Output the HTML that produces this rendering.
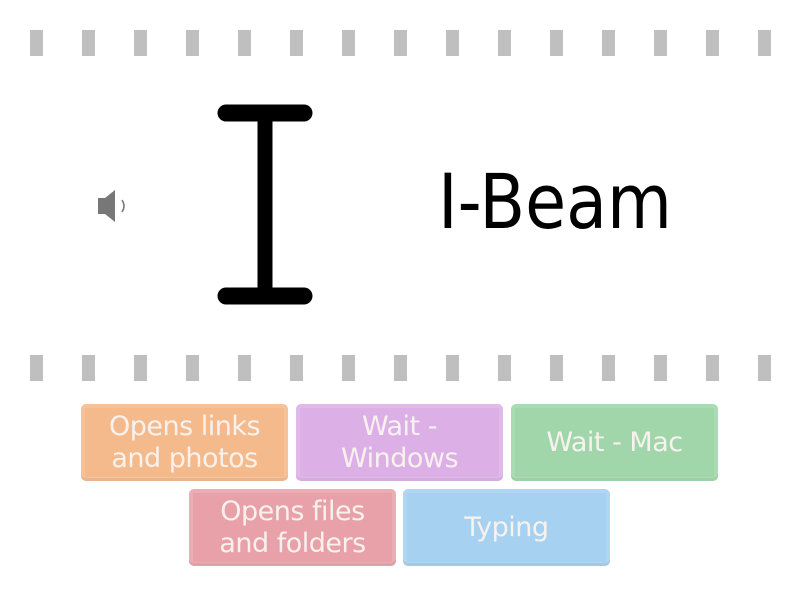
<!DOCTYPE html>
<html><head><style>
body{margin:0;width:800px;height:600px;background:#fff;position:relative;overflow:hidden;font-family:"DejaVu Sans","Liberation Sans",sans-serif}
.d{position:absolute;width:13px;height:26px;background:#bfbfbf}
.b{position:absolute;width:207px;height:77px;border-radius:5px;color:#f7f2ee;font-size:27px;line-height:32px;text-align:center;display:flex;align-items:center;justify-content:center;box-shadow:inset 0 -3px 0 rgba(0,0,0,0.06),inset 0 0 0 4px rgba(255,255,255,0.12);letter-spacing:-0.5px}
</style></head><body>
<div id="dashes"></div>
<script>
var h='';for(var i=0;i<15;i++){var x=30+i*52;h+='<div class="d" style="left:'+x+'px;top:30px"></div><div class="d" style="left:'+x+'px;top:355px"></div>';}
document.getElementById('dashes').innerHTML=h;
</script>
<svg style="position:absolute;left:0;top:0" width="800" height="360">
<g stroke="#000" stroke-linecap="round" fill="none">
<line x1="226" y1="113" x2="304" y2="113" stroke-width="17"/>
<line x1="226" y1="296" x2="304" y2="296" stroke-width="17"/>
<line x1="265" y1="113" x2="265" y2="296" stroke-width="15"/>
</g>
<path d="M98 198 h7 l10 -8 v32 l-10 -8 h-7z" fill="#777"/>
<path d="M122 200 q4 6 0 12" stroke="#777" stroke-width="1.5" fill="none"/>
<text x="438" y="228" font-family="DejaVu Sans, sans-serif" font-size="76" fill="#000" textLength="234" lengthAdjust="spacingAndGlyphs">I-Beam</text>
</svg>
<div class="b" style="left:81px;top:404px;background:#f5ba8c">Opens links<br>and photos</div>
<div class="b" style="left:296px;top:404px;background:#ddafe7">Wait -<br>Windows</div>
<div class="b" style="left:511px;top:404px;background:#a0d6aa">Wait - Mac</div>
<div class="b" style="left:189px;top:489px;background:#e9a1a9">Opens files<br>and folders</div>
<div class="b" style="left:403px;top:489px;background:#a6d1f0">Typing</div>
</body></html>
